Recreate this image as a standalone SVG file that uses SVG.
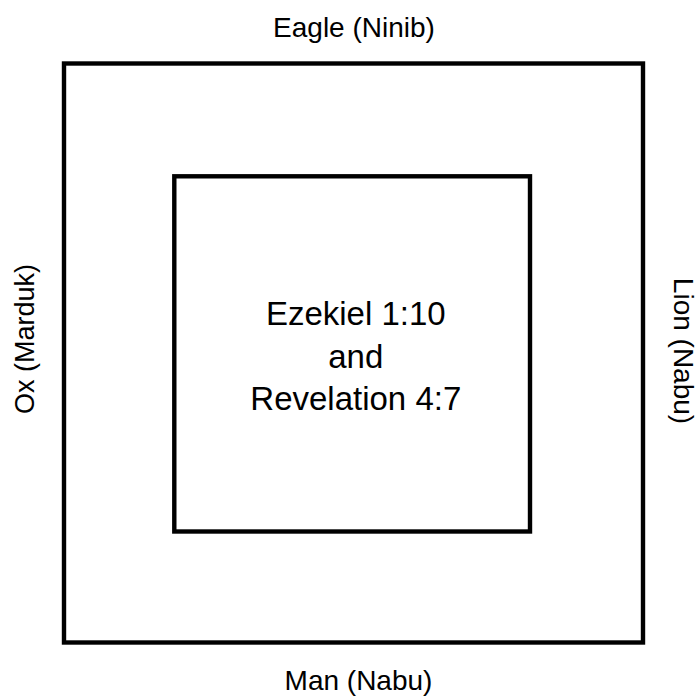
<svg xmlns="http://www.w3.org/2000/svg" width="699" height="698" viewBox="0 0 699 698">
  <style>
    .frame { fill: none; stroke: #000; stroke-width: 4.4; }
    .label { font-family: "Liberation Sans", Arial, Helvetica, sans-serif; font-size: 28px; fill: #000; text-anchor: middle; }
    .title { font-family: "Liberation Sans", Arial, Helvetica, sans-serif; font-size: 33px; fill: #000; text-anchor: middle; }
  </style>
  <rect x="0" y="0" width="699" height="698" fill="#fff"/>

  <g id="outer-square">
    <rect class="frame" x="64" y="63.5" width="579" height="579"/>
  </g>

  <g id="inner-square">
    <rect class="frame" x="174.3" y="176.3" width="355.7" height="355.2"/>
    <text class="title" x="355.8" y="325">Ezekiel 1:10</text>
    <text class="title" x="355.8" y="367.5">and</text>
    <text class="title" x="355.8" y="410">Revelation 4:7</text>
  </g>

  <g id="side-labels">
    <text id="label-top" class="label" x="354" y="36.7">Eagle (Ninib)</text>
    <text id="label-bottom" class="label" x="358.5" y="690">Man (Nabu)</text>
    <text id="label-left" class="label" style="font-size:27px" transform="translate(34 339) rotate(-90)">Ox (Marduk)</text>
    <text id="label-right" class="label" transform="translate(673.5 351) rotate(90)">Lion (Nabu)</text>
  </g>
</svg>
